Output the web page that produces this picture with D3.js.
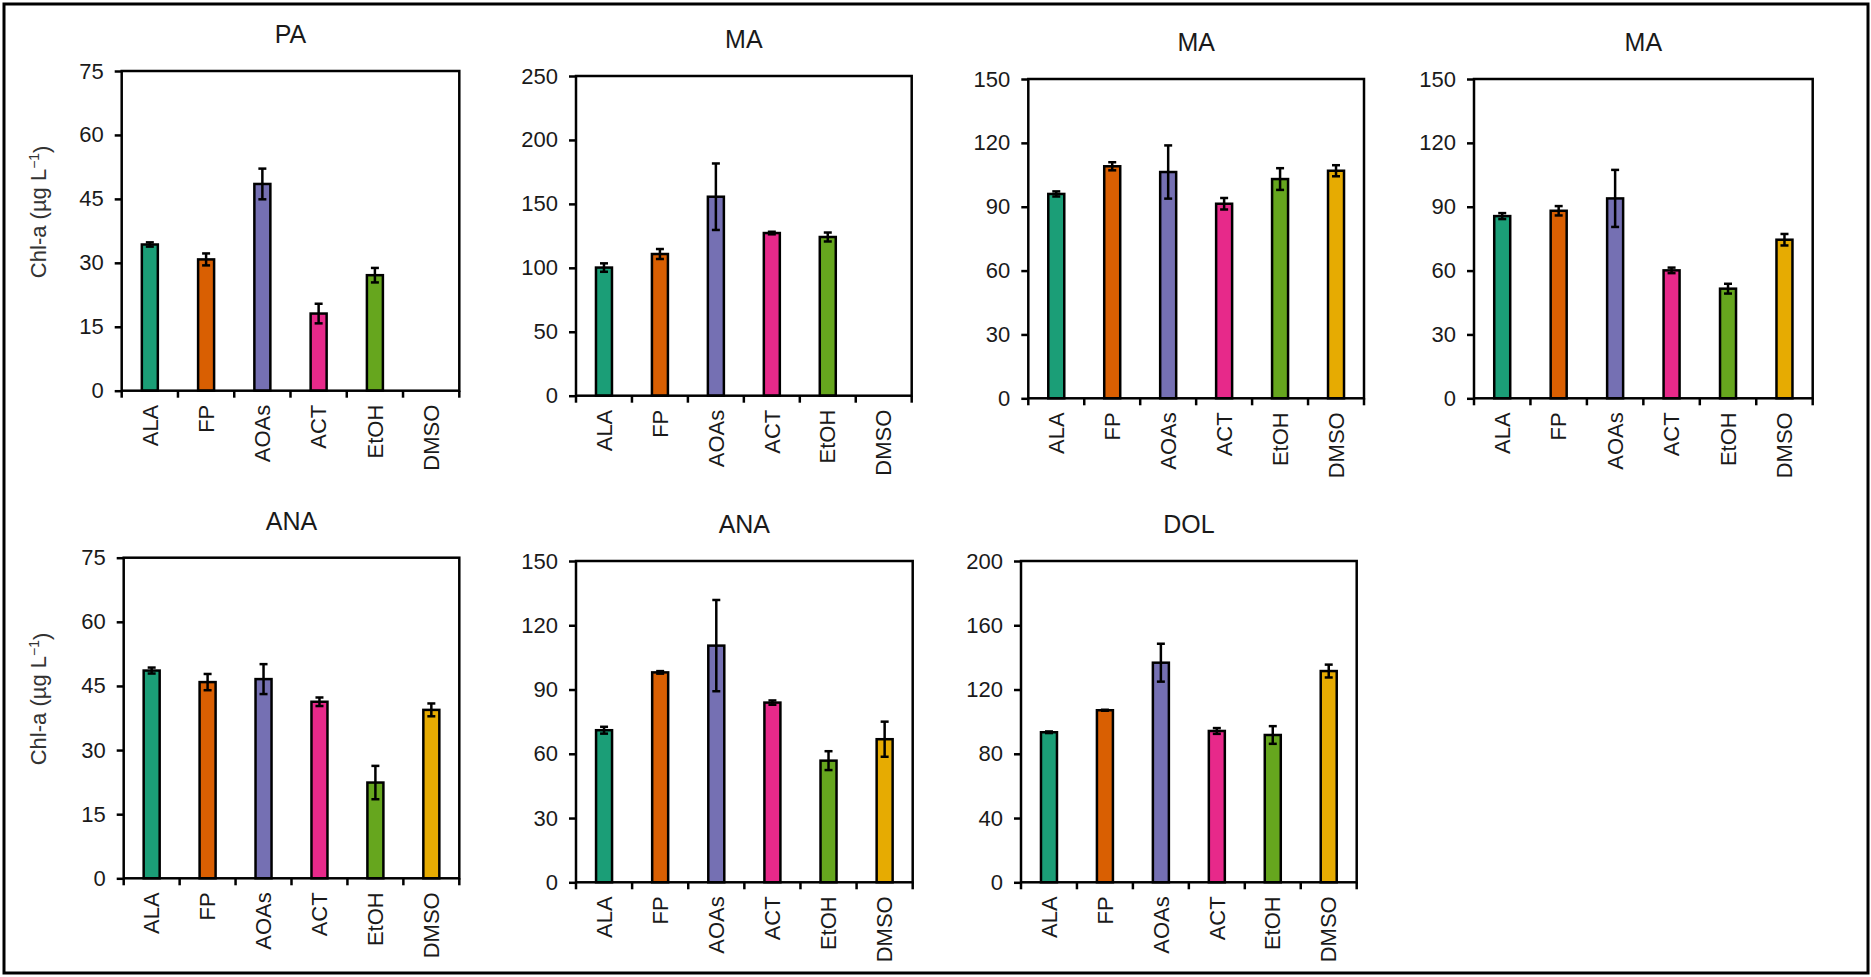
<!DOCTYPE html>
<html>
<head>
<meta charset="utf-8">
<script src="https://cdn.jsdelivr.net/npm/d3@7"></script>
<style>
  html, body { margin: 0; padding: 0; background: #fff; }
  svg { display: block; }
  text { font-family: "Liberation Sans", Arial, sans-serif; fill: #1a1a1a; }
</style>
</head>
<body>
<svg id="chart" width="1871" height="977"></svg>
<script>
// ---------------- data ----------------
const categories = ["ALA", "FP", "AOAs", "ACT", "EtOH", "DMSO"];
const colors = ["#1b9e77", "#d95f02", "#7570b3", "#e7298a", "#66a61e", "#e6ab02"];
const titles = ["PA", "MA", "MA", "MA", "ANA", "ANA", "DOL"];
const yMax = [75, 250, 150, 150, 75, 150, 200];
const yStep = [15, 50, 30, 30, 15, 30, 40];
const yLabel = "Chl-a (µg L";

const valuesPA   = [34.3, 30.8, 48.5, 18.1, 27.1, null];
const errorsPA   = [0.5, 1.4, 3.6, 2.3, 1.7, null];
const valuesMA1  = [100.2, 110.8, 155.6, 127.2, 124.1, null];
const errorsMA1  = [3.3, 3.9, 26.0, 1.0, 3.5, null];
const valuesMA2  = [96.0, 109.0, 106.3, 91.4, 103.0, 106.9];
const errorsMA2  = [1.2, 1.9, 12.5, 2.7, 5.1, 2.6];
const valuesMA3  = [85.6, 88.1, 93.9, 60.1, 51.5, 74.5];
const errorsMA3  = [1.4, 2.2, 13.4, 1.3, 2.3, 2.7];
const valuesANA1 = [48.6, 45.9, 46.6, 41.3, 22.4, 39.4];
const errorsANA1 = [0.7, 1.9, 3.5, 1.0, 3.9, 1.5];
const valuesANA2 = [71.0, 98.0, 110.5, 83.9, 56.8, 66.8];
const errorsANA2 = [1.6, 0.6, 21.3, 1.0, 4.4, 8.2];
const valuesDOL  = [93.4, 107.1, 136.7, 94.2, 91.7, 131.5];
const errorsDOL  = [0.5, 0.3, 11.8, 1.8, 5.5, 4.0];

const panelValues = [valuesPA, valuesMA1, valuesMA2, valuesMA3, valuesANA1, valuesANA2, valuesDOL];
const panelErrors = [errorsPA, errorsMA1, errorsMA2, errorsMA3, errorsANA1, errorsANA2, errorsDOL];

// ---------------- layout (plot boxes: left, right, top, bottom) ----------------
const layout = [
  [121.7, 459.3, 71, 390.7],
  [576, 911.7, 76, 395.7],
  [1028.3, 1364, 79, 398.3],
  [1474, 1812.7, 79, 398.3],
  [123.7, 459.3, 557.7, 878.3],
  [576, 912.7, 561, 882.3],
  [1021, 1356.7, 561, 882.3]
];
const showYLabel = [true, false, false, false, true, false, false];

const svg = d3.select("#chart");

// outer frame
svg.append("rect")
  .attr("x", 4).attr("y", 4).attr("width", 1864).attr("height", 969)
  .attr("fill", "none").attr("stroke", "#000").attr("stroke-width", 3);

const FONT = 22;

layout.forEach((box, i) => {
  const [x0, x1, y0, y1] = box;
  const g = svg.append("g");
  const x = d3.scaleBand().domain(categories).range([x0, x1]);
  const y = d3.scaleLinear().domain([0, yMax[i]]).range([y1, y0]);
  const ticks = d3.range(0, yMax[i] + 0.001, yStep[i]);

  // y axis
  const yAxis = d3.axisLeft(y).tickValues(ticks).tickSize(7).tickPadding(11).tickFormat(d3.format("d"));
  const ya = g.append("g").attr("transform", `translate(${x0},0)`).call(yAxis);
  ya.select(".domain").remove();
  ya.selectAll(".tick line").attr("stroke", "#000").attr("stroke-width", 2.5);
  ya.selectAll(".tick text").style("font-size", FONT + "px").style("fill", "#1a1a1a")
    .style("font-family", '"Liberation Sans", Arial, sans-serif');

  // x ticks at category boundaries
  const bounds = categories.map(c => x(c)).concat([x1]);
  g.selectAll("line.xt").data(bounds).enter().append("line")
    .attr("x1", d => d).attr("x2", d => d)
    .attr("y1", y1).attr("y2", y1 + 7)
    .attr("stroke", "#000").attr("stroke-width", 2.5);

  // x labels
  g.selectAll("text.xl").data(categories).enter().append("text")
    .attr("transform", d => `translate(${x(d) + x.bandwidth() / 2},${y1 + 14}) rotate(-90)`)
    .attr("text-anchor", "end").attr("dy", "0.35em")
    .style("font-size", FONT + "px")
    .text(d => d);

  // bars
  const vals = panelValues[i], errs = panelErrors[i];
  const data = categories.map((c, k) => ({ c, v: vals[k], e: errs[k], col: colors[k] })).filter(d => d.v != null);
  const bw = 16;
  g.selectAll("rect.bar").data(data).enter().append("rect")
    .attr("x", d => x(d.c) + x.bandwidth() / 2 - bw / 2)
    .attr("y", d => y(d.v))
    .attr("width", bw)
    .attr("height", d => y(0) - y(d.v))
    .attr("fill", d => d.col)
    .attr("stroke", "#000").attr("stroke-width", 2.5);

  // error bars
  const cap = 4;
  const eb = g.selectAll("g.eb").data(data).enter().append("g");
  eb.append("line")
    .attr("x1", d => x(d.c) + x.bandwidth() / 2).attr("x2", d => x(d.c) + x.bandwidth() / 2)
    .attr("y1", d => y(d.v - d.e)).attr("y2", d => y(d.v + d.e))
    .attr("stroke", "#000").attr("stroke-width", 2.5);
  eb.append("line")
    .attr("x1", d => x(d.c) + x.bandwidth() / 2 - cap).attr("x2", d => x(d.c) + x.bandwidth() / 2 + cap)
    .attr("y1", d => y(d.v + d.e)).attr("y2", d => y(d.v + d.e))
    .attr("stroke", "#000").attr("stroke-width", 2.5);
  eb.append("line")
    .attr("x1", d => x(d.c) + x.bandwidth() / 2 - cap).attr("x2", d => x(d.c) + x.bandwidth() / 2 + cap)
    .attr("y1", d => y(d.v - d.e)).attr("y2", d => y(d.v - d.e))
    .attr("stroke", "#000").attr("stroke-width", 2.5);

  // plot frame
  g.append("rect")
    .attr("x", x0).attr("y", y0).attr("width", x1 - x0).attr("height", y1 - y0)
    .attr("fill", "none").attr("stroke", "#000").attr("stroke-width", 2.5);

  // title
  g.append("text")
    .attr("x", (x0 + x1) / 2).attr("y", y0 - 28)
    .attr("text-anchor", "middle")
    .style("font-size", "25px")
    .text(titles[i]);

  // y label
  if (showYLabel[i]) {
    const t = g.append("text")
      .attr("transform", `translate(38,${(y0 + y1) / 2 - 19}) rotate(-90)`)
      .attr("text-anchor", "middle").attr("dy", "0.35em")
      .style("font-size", "22px").style("fill", "#333");
    t.append("tspan").text(yLabel);
    t.append("tspan").attr("dy", "-0.45em").style("font-size", "14px").text("−1");
    t.append("tspan").attr("dy", "0.45em").text(")");
  }
});
</script>
</body>
</html>
